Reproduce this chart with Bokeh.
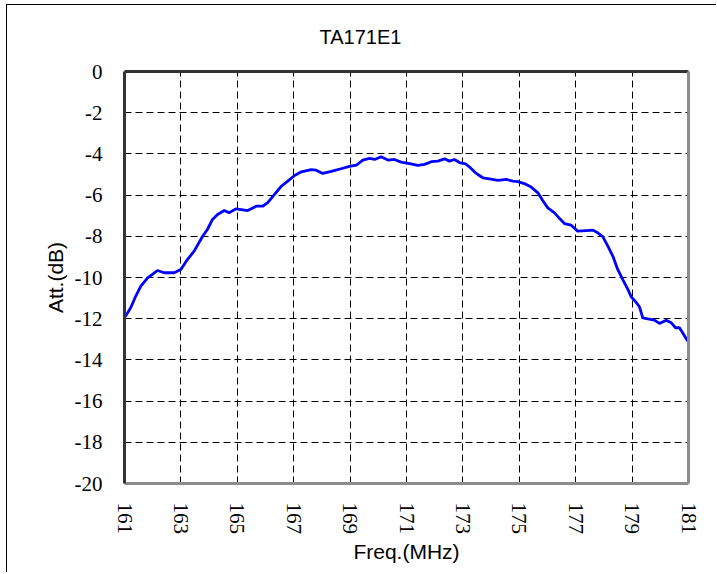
import math
from bokeh.plotting import figure
from bokeh.models import FixedTicker, LinearAxis, Range1d, Title
from bokeh.embed import file_html
from bokeh.resources import INLINE

freq = [161.0, 161.22, 161.40, 161.58, 161.82, 161.99, 162.17, 162.41, 162.76, 163.0,
        163.23, 163.47, 163.77, 163.94, 164.12, 164.30, 164.54, 164.71, 164.95, 165.14,
        165.37, 165.67, 165.90, 166.08, 166.32, 166.56, 166.79, 167.03, 167.27, 167.62,
        167.80, 168.03, 168.33, 168.68, 168.98, 169.22, 169.45, 169.69, 169.87, 170.10,
        170.34, 170.57, 170.81, 171.11, 171.40, 171.64, 171.88, 172.11, 172.35, 172.52,
        172.70, 172.88, 173.09, 173.26, 173.41, 173.53, 173.71, 173.94, 174.24, 174.54,
        174.77, 174.95, 175.18, 175.42, 175.66, 175.83, 176.01, 176.25, 176.43, 176.60,
        176.84, 177.07, 177.37, 177.61, 177.78, 177.96, 178.14, 178.32, 178.49, 178.67,
        178.85, 178.97, 179.14, 179.26, 179.38, 179.56, 179.79, 179.97, 180.21, 180.39,
        180.54, 180.68, 180.83, 180.97]
att = [-11.96, -11.47, -10.90, -10.42, -10.02, -9.85, -9.66, -9.77, -9.77, -9.61,
       -9.13, -8.72, -8.00, -7.67, -7.18, -6.94, -6.75, -6.86, -6.67, -6.70,
       -6.75, -6.54, -6.54, -6.37, -5.97, -5.57, -5.32, -5.05, -4.87, -4.76,
       -4.79, -4.95, -4.85, -4.72, -4.61, -4.55, -4.30, -4.22, -4.27, -4.14,
       -4.30, -4.27, -4.40, -4.47, -4.56, -4.51, -4.38, -4.35, -4.24, -4.35,
       -4.27, -4.42, -4.48, -4.67, -4.87, -5.00, -5.16, -5.21, -5.29, -5.24,
       -5.32, -5.35, -5.44, -5.61, -5.89, -6.26, -6.62, -6.86, -7.14, -7.38,
       -7.46, -7.75, -7.72, -7.70, -7.83, -8.02, -8.48, -8.97, -9.61, -10.10,
       -10.58, -10.94, -11.20, -11.42, -11.96, -12.01, -12.07, -12.23, -12.07, -12.20,
       -12.44, -12.44, -12.77, -13.09]

x_ticks = [161, 163, 165, 167, 169, 171, 173, 175, 177, 179, 181]
y_ticks = [0, -2, -4, -6, -8, -10, -12, -14, -16, -18, -20]
y_tick_labels = ["0", "-2", "-4", "-6", "-8", "-10", "-12", "-14", "-16", "-18", "-20"]

p = figure(width=716, height=572, output_backend="svg", toolbar_location=None,
           x_range=Range1d(161, 181), y_range=Range1d(-20, 0),
           min_border_left=124, min_border_right=28, min_border_top=71, min_border_bottom=89,
           background_fill_color="white", border_fill_color=None)
p.styles = {"background-color": "#ffffff",
            "box-shadow": "inset 6px 4px 0 0 #ffffff, inset 7px 5px 0 0 #000000"}

p.title = Title(text="TA171E1", align="left", offset=195, standoff=45,
                vertical_align="middle",
                text_font="Liberation Sans", text_font_size="20px",
                text_font_style="normal", text_color="black")
p.outline_line_color = None

p.line(freq, att, line_color="#0000FF", line_width=2.8)

serif = "Liberation Serif"
sans = "Liberation Sans"

xa = p.xaxis[0]
xa.ticker = FixedTicker(ticks=x_ticks)
xa.major_label_orientation = -math.pi / 2
xa.major_label_text_font = serif
xa.major_label_text_font_size = "21px"
xa.major_label_text_color = "black"
xa.major_label_standoff = 19
xa.major_tick_in = 0
xa.major_tick_out = 0
xa.minor_tick_in = 0
xa.minor_tick_out = 0
xa.axis_line_color = "#8c8c8c"
xa.axis_line_width = 3
xa.axis_label = "Freq.(MHz)"
xa.axis_label_text_font = sans
xa.axis_label_text_font_size = "21px"
xa.axis_label_text_font_style = "normal"
xa.axis_label_text_color = "black"
xa.axis_label_standoff = 3

ya = p.yaxis[0]
ya.ticker = FixedTicker(ticks=y_ticks)
ya.major_label_overrides = {t: s for t, s in zip(y_ticks, y_tick_labels)}
ya.major_label_text_font = serif
ya.major_label_text_font_size = "21px"
ya.major_label_text_color = "black"
ya.major_label_standoff = 22
ya.major_tick_in = 0
ya.major_tick_out = 0
ya.minor_tick_in = 0
ya.minor_tick_out = 0
ya.axis_line_color = "#333333"
ya.axis_line_width = 3
ya.axis_label = "Att.(dB)"
ya.axis_label_text_font = sans
ya.axis_label_text_font_size = "21px"
ya.axis_label_text_font_style = "normal"
ya.axis_label_text_color = "black"
ya.axis_label_standoff = 5

for loc, col in (("above", "#333333"), ("right", "#8c8c8c")):
    ax = LinearAxis(ticker=FixedTicker(ticks=[]))
    ax.major_label_text_font_size = "0px"
    ax.major_tick_in = 0
    ax.major_tick_out = 0
    ax.minor_tick_in = 0
    ax.minor_tick_out = 0
    ax.axis_line_color = col
    ax.axis_line_width = 3
    p.add_layout(ax, loc)

p.xgrid.ticker = FixedTicker(ticks=x_ticks)
p.ygrid.ticker = FixedTicker(ticks=y_ticks)
for g in (p.xgrid[0], p.ygrid[0]):
    g.grid_line_color = "black"
    g.grid_line_width = 1
    g.grid_line_dash = "7 4"

open("out.html", "w").write(file_html(p, INLINE))
